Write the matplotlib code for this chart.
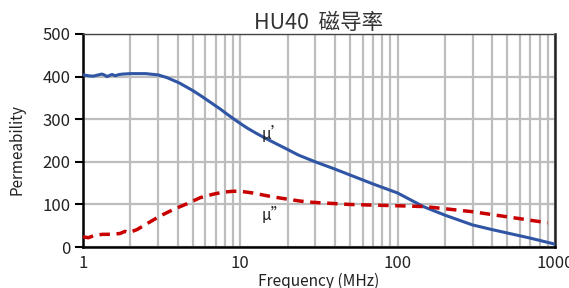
import matplotlib
matplotlib.use("Agg")
from matplotlib import pyplot as plt
from matplotlib.ticker import LogLocator, NullFormatter, FixedLocator, FixedFormatter

plt.rcParams['font.family'] = ['Noto Sans CJK SC', 'DejaVu Sans']

freq_mu1 = [1, 1.08, 1.16, 1.25, 1.32, 1.38, 1.42, 1.48, 1.53, 1.6, 1.7, 1.8, 2, 2.5, 3, 3.4,
            4.1, 5, 5.56, 6.5, 7.45, 8.3, 9.3, 10, 11.1, 12.5, 14, 16, 17.9, 20, 23.4, 30,
            40, 50, 70, 100, 146, 200, 300, 400, 500, 700, 1000]
mu1 = [404, 402, 401, 404, 406, 403, 400, 403, 405, 402, 405, 406, 407, 407, 404, 398,
       385, 367, 356, 339, 324, 311, 298, 290, 279, 268, 258, 247, 238, 229, 216, 200,
       183, 169, 148, 127, 95, 75, 52, 41, 33, 21, 7]

# mu'' (imaginary part)
freq_mu2 = [1, 1.08, 1.19, 1.34, 1.53, 1.72, 1.85, 1.96, 2.2, 2.55, 3.09, 3.74, 4.6, 5.56,
            6.7, 7.8, 9, 10, 12, 15, 18, 24, 29, 50, 100, 150, 200, 300, 500, 700, 900]
mu2 = [24, 22, 28, 30, 30, 32, 37, 34, 41, 55, 73, 88, 102, 116,
       124, 129, 131, 131, 127, 120, 115, 108, 105, 100, 97, 95, 90, 83, 71, 63, 57]

x_ticks = [1, 10, 100, 1000]
y_ticks = [0, 100, 200, 300, 400, 500]

fig = plt.figure(figsize=(5.69, 2.88), dpi=100)
ax = fig.add_axes([0.146, 0.142, 0.829, 0.740])

ax.plot(freq_mu1, mu1, color='#2f55a4', linewidth=2.2, zorder=3)
ax.plot(freq_mu2, mu2, color='#c80000', linewidth=2.5, dashes=(3.0, 1.9), zorder=3)

ax.set_xscale('log')
ax.set_xlim(1, 1000)
ax.set_ylim(0, 500)

ax.xaxis.set_major_locator(FixedLocator(x_ticks))
ax.xaxis.set_major_formatter(FixedFormatter([str(t) for t in x_ticks]))
ax.xaxis.set_minor_locator(LogLocator(base=10, subs=range(2, 10)))
ax.xaxis.set_minor_formatter(NullFormatter())
ax.set_yticks(y_ticks)

# vertical grid at every decade step, horizontal at each 100
ax.grid(True, which='both', axis='x', color='#bdbdbd', linewidth=1.6, zorder=0)
ax.grid(True, which='major', axis='y', color='#bdbdbd', linewidth=1.6, zorder=0)
ax.set_axisbelow(True)

ax.tick_params(axis='x', which='both', length=0, labelsize=12, pad=6, labelcolor='#222222')
ax.tick_params(axis='y', length=6, width=1.5, labelsize=12, pad=3, labelcolor='#222222', color='black')

ax.spines['left'].set_linewidth(1.8)
ax.spines['bottom'].set_linewidth(1.8)
ax.spines['right'].set_linewidth(1.8)
ax.spines['right'].set_color('#222222')
ax.spines['top'].set_linewidth(1.0)
ax.spines['top'].set_color('#444444')

ax.text(13.7, 265, 'μ’', fontsize=11, color='#222222', va='center', ha='left')
ax.text(13.7, 74, 'μ”', fontsize=11, color='#222222', va='center', ha='left')

ax.set_title('HU40  磁导率', fontsize=15.5, color='#333333', pad=3)
ax.set_xlabel('Frequency (MHz)', fontsize=11.2, color='#222222', labelpad=0)
ax.set_ylabel('Permeability', fontsize=11, color='#222222')
ax.yaxis.set_label_coords(-0.123, 0.46)

fig.savefig('out.png', dpi=100)
